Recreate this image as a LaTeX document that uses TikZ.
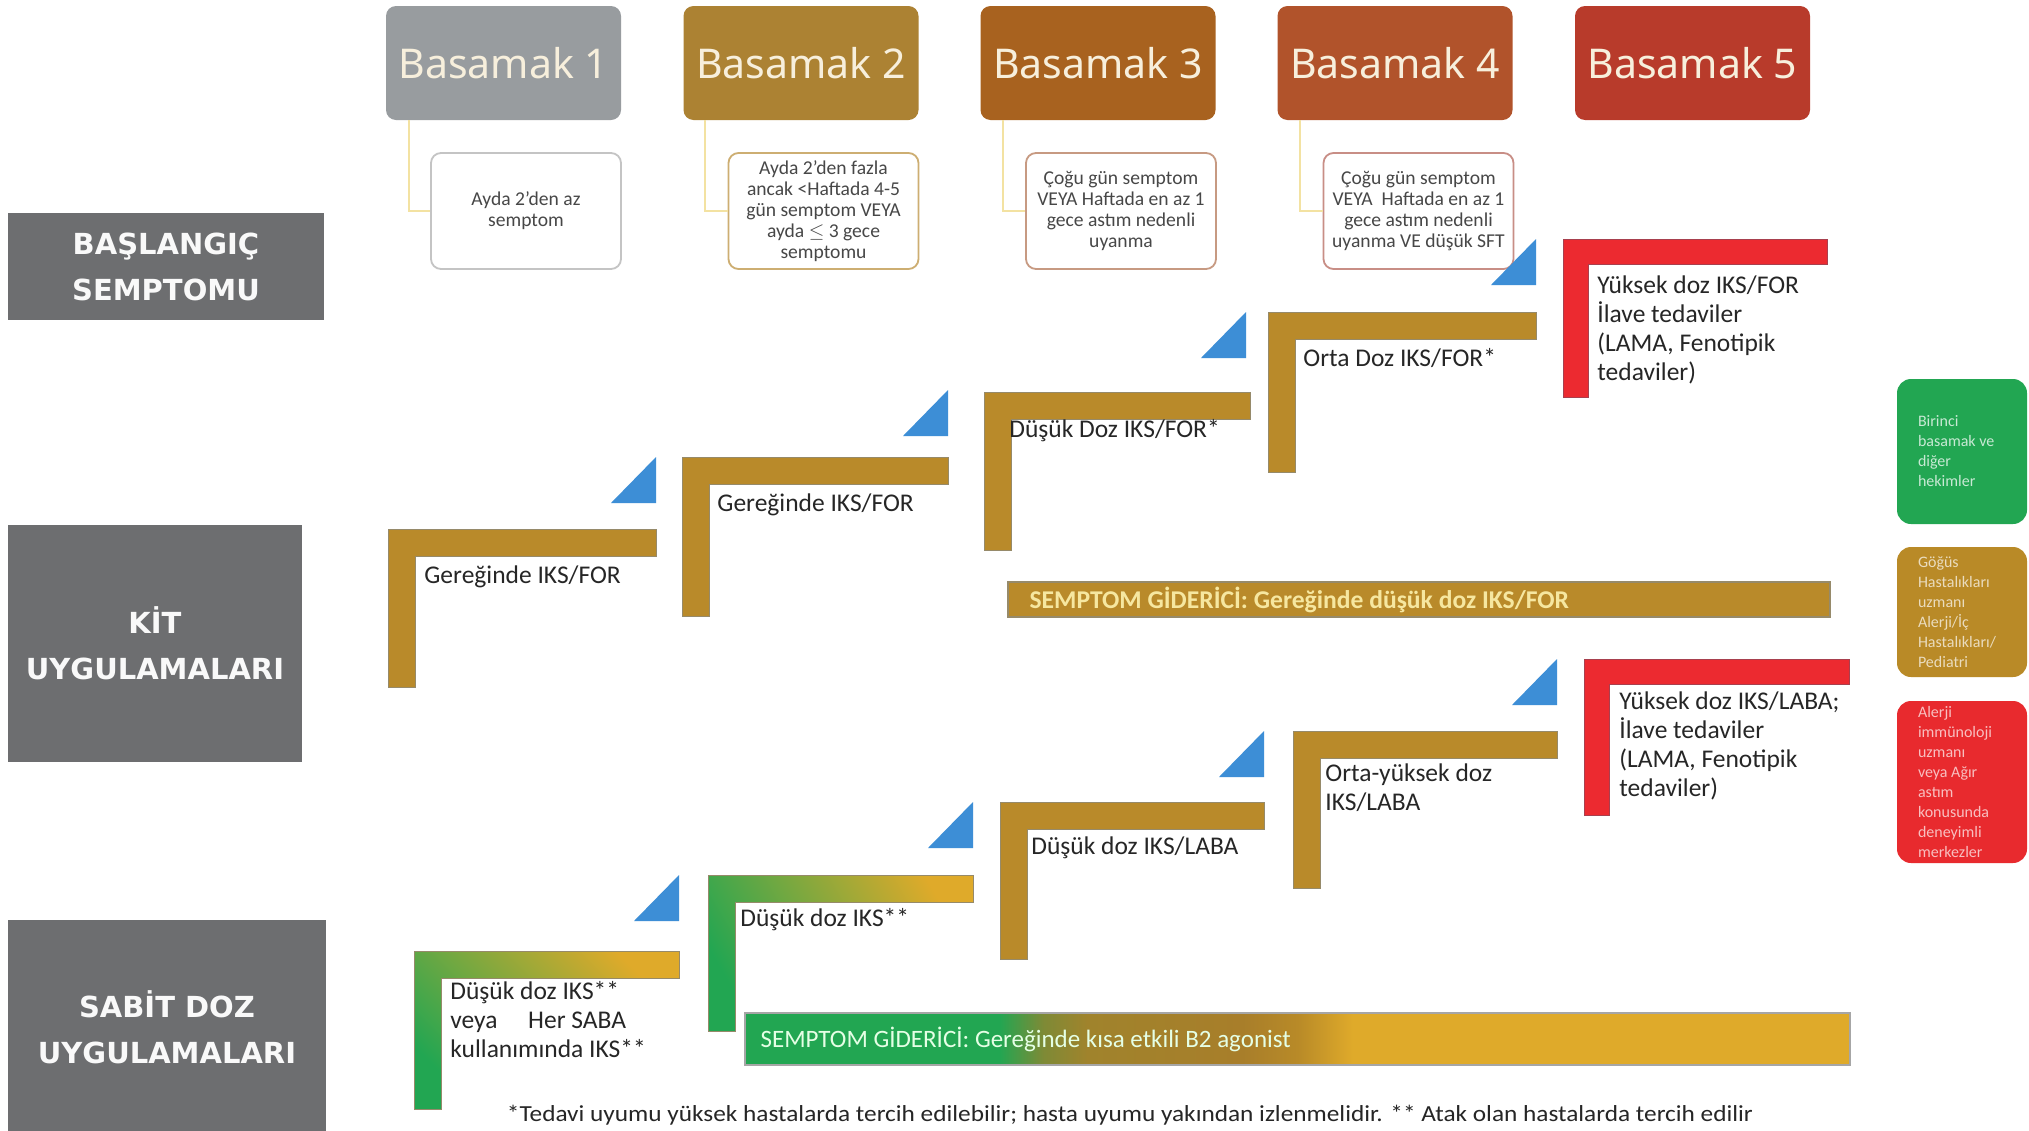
\documentclass[tikz,border=0pt]{standalone}
\usepackage{fontspec}
\setmainfont{Carlito}
\newfontfamily\headfont{Noto Sans}
\newfontfamily\sidefont{DejaVu Sans}
\definecolor{hdA}{HTML}{989C9F}
\definecolor{hdB}{HTML}{AC8233}
\definecolor{hdC}{HTML}{A8621F}
\definecolor{hdD}{HTML}{B1532B}
\definecolor{hdE}{HTML}{B83B2B}
\definecolor{hdtext}{HTML}{F7EFDC}
\definecolor{sbA}{HTML}{C4C4C4}
\definecolor{sbB}{HTML}{CDAE72}
\definecolor{sbC}{HTML}{C79A82}
\definecolor{sbD}{HTML}{C88E86}
\definecolor{conncol}{HTML}{F3E2A2}
\definecolor{sidegray}{HTML}{6D6E70}
\definecolor{goldL}{HTML}{B98A2A}
\definecolor{goldEdge}{HTML}{968A6A}
\definecolor{redL}{HTML}{EC2A30}
\definecolor{redEdge}{HTML}{A8404E}
\definecolor{triblue}{HTML}{3D8ED6}
\definecolor{sGreen}{HTML}{22A652}
\definecolor{sOlive}{HTML}{7E8A36}
\definecolor{sBrown}{HTML}{A0832C}
\definecolor{sMid}{HTML}{A87E2A}
\definecolor{sDark}{HTML}{B88A28}
\definecolor{sGold}{HTML}{DFAA2A}
\definecolor{txtdark}{HTML}{262626}
\definecolor{kitbartxt}{HTML}{F6E7A0}
\definecolor{lgGreen}{HTML}{22A652}
\definecolor{lgGold}{HTML}{B98A27}
\definecolor{lgRed}{HTML}{E82A2E}
\pgfdeclarehorizontalshading{sabitbar}{100bp}{color(0bp)=(sGreen); color(36.5bp)=(sGreen); color(38.5bp)=(sOlive); color(40.5bp)=(sBrown); color(47.5bp)=(sMid); color(50bp)=(sDark); color(52.5bp)=(sGold); color(100bp)=(sGold)}
\newcommand{\Lsh}[5]{(#1,#2) -- (#1+#3,#2) -- (#1+#3,#2+#5) -- (#1+#5,#2+#5) -- (#1+#5,#2+#4) -- (#1,#2+#4) -- cycle}
\newcommand{\Tri}[2]{(#1,#2) -- (#1,#2+46) -- (#1-45,#2+46) -- cycle}
\begin{document}
\begin{tikzpicture}[x=0.5pt,y=-0.5pt,
  every node/.style={inner sep=0pt},
  head/.style={rounded corners=5pt, minimum width=117.5pt, minimum height=57pt, text=hdtext, font=\headfont\fontsize{20.5}{24}\selectfont},
  symp/.style={draw, fill=white, rounded corners=5pt, line width=0.9pt, minimum width=95pt, minimum height=58pt, align=center, text=txtdark!85!white, font=\fontsize{9.8}{10.5}\selectfont},
  side/.style={fill=sidegray, align=center, text=white!95!gray, font=\sidefont\bfseries\fontsize{14.5}{23}\selectfont},
  conn/.style={draw=conncol, line width=1.1pt},
  steptext/.style={anchor=west, align=left, text=txtdark, font=\fontsize{12.75}{14.5}\selectfont},
  Lgold/.style={fill=goldL, draw=goldEdge, line width=0.4pt},
  Lred/.style={fill=redL, draw=redEdge, line width=0.4pt},
  tri/.style={fill=triblue},
  legbox/.style={rounded corners=7pt, minimum width=65pt},
  legtext/.style={anchor=west, align=left, font=\fontsize{8}{10}\selectfont}
]
\useasboundingbox (0,0) rectangle (2029,1130);
\fill[white] (0,0) rectangle (2029,1130);

% header steps
\node[head, fill=hdA] (b1) at (503.5,63) {Basamak 1};
\node[head, fill=hdB] (b2) at (801,63) {Basamak 2};
\node[head, fill=hdC] (b3) at (1098,63) {Basamak 3};
\node[head, fill=hdD] (b4) at (1395,63) {Basamak 4};
\node[head, fill=hdE] (b5) at (1692.5,63) {Basamak 5};

% symptom boxes
\node[symp, draw=sbA] (s1) at (526,211) {Ayda 2'den az\\semptom};
\node[symp, draw=sbB] (s2) at (823.5,211) {Ayda 2'den fazla\\ancak <Haftada 4-5\\gün semptom VEYA\\ayda $\leq$ 3 gece\\semptomu};
\node[symp, draw=sbC] (s3) at (1121,211) {Çoğu gün semptom\\VEYA Haftada en az 1\\gece astım nedenli\\uyanma};
\node[symp, draw=sbD] (s4) at (1418.5,211) {Çoğu gün semptom\\VEYA\ \ Haftada en az 1\\gece astım nedenli\\uyanma VE düşük SFT};

\draw[conn] ([xshift=11.5pt]b1.south west) |- (s1.west);
\draw[conn] ([xshift=11pt]b2.south west) |- (s2.west);
\draw[conn] ([xshift=11.5pt]b3.south west) |- (s3.west);
\draw[conn] ([xshift=11.5pt]b4.south west) |- (s4.west);

% side labels
\node[side, minimum width=158pt, minimum height=53.5pt] (lab1) at (166,266.5) {BAŞLANGIÇ\\SEMPTOMU};
\node[side, minimum width=147pt, minimum height=118.5pt] (lab2) at (155,643.5) {KİT\\UYGULAMALARI};
\node[side, minimum width=159pt, minimum height=107.5pt] (lab3) at (167,1027.5) {SABİT DOZ\\UYGULAMALARI};

% KIT steps
\filldraw[Lgold] \Lsh{388}{529}{268}{158}{27};
\filldraw[Lgold] \Lsh{682}{457}{266}{159}{27};
\filldraw[Lgold] \Lsh{984}{392}{266}{158}{27};
\filldraw[Lgold] \Lsh{1268}{312}{268}{160}{27};
\filldraw[Lred] \Lsh{1563}{239}{264}{158}{25};
\fill[tri] \Tri{656}{457};
\fill[tri] \Tri{948}{390};
\fill[tri] \Tri{1246}{312};
\fill[tri] \Tri{1536}{239};
\node[steptext] (k1) at (424,577) {Gereğinde IKS/FOR};
\node[steptext] (k2) at (717,505) {Gereğinde IKS/FOR};
\node[steptext] (k3) at (1009,431) {Düşük Doz IKS/FOR*};
\node[steptext] (k4) at (1303,358) {Orta Doz IKS/FOR*};
\node[steptext] (k5) at (1597,329.5) {Yüksek doz IKS/FOR\\İlave tedaviler\\(LAMA, Fenotipik\\tedaviler)};
\node[fill=goldL, draw=goldEdge, line width=0.8pt, minimum width=411pt, minimum height=17.5pt] (kb) at (1419,599.5) {};
\node[anchor=west, text=kitbartxt, font=\bfseries\fontsize{12.8}{14}\selectfont] (kbt) at ([xshift=11pt]kb.west) {SEMPTOM GİDERİCİ: Gereğinde düşük doz IKS/FOR};

% SABIT steps
\shade[left color=sGreen, middle color=sOlive, right color=sGold, shading angle=135, draw=goldEdge, line width=0.4pt] \Lsh{414}{951}{265}{158}{27};
\shade[left color=sGreen, middle color=sGreen!60!sGold, right color=sGold, shading angle=120, draw=goldEdge, line width=0.4pt] \Lsh{708}{875}{265}{156}{27};
\filldraw[Lgold] \Lsh{1000}{802}{264}{157}{27};
\filldraw[Lgold] \Lsh{1293}{731}{264}{157}{27};
\filldraw[Lred] \Lsh{1584}{659}{265}{156}{25};
\fill[tri] \Tri{679}{875};
\fill[tri] \Tri{973}{802};
\fill[tri] \Tri{1264}{731};
\fill[tri] \Tri{1557}{659};
\node[steptext] (f1) at (450,1020) {Düşük doz IKS**\\veya\hspace{1.2em}Her SABA\\kullanımında IKS**};
\node[steptext] (f2) at (740,920) {Düşük doz IKS**};
\node[steptext] (f3) at (1031,848) {Düşük doz IKS/LABA};
\node[steptext] (f4) at (1325,788) {Orta-yüksek doz\\IKS/LABA};
\node[steptext] (f5) at (1619,745.5) {Yüksek doz IKS/LABA;\\İlave tedaviler\\(LAMA, Fenotipik\\tedaviler)};
\node[shading=sabitbar, draw=gray!70, line width=0.8pt, minimum width=552.5pt, minimum height=26pt] (sb) at (1297.5,1039) {};
\node[anchor=west, text=green!10!white, font=\fontsize{12.5}{14}\selectfont] (sbt) at ([xshift=8pt]sb.west) {SEMPTOM GİDERİCİ: Gereğinde kısa etkili B2 agonist};

% legend
\node[legbox, fill=lgGreen, minimum height=72.5pt] (g1) at (1962,451.5) {};
\node[legbox, fill=lgGold, minimum height=65pt] (g2) at (1962,612) {};
\node[legbox, fill=lgRed, minimum height=81pt] (g3) at (1962,782) {};
\node[legtext, text=white!75!lgGreen] (g1t) at ([xshift=10.5pt]g1.west) {Birinci\\basamak ve\\diğer\\hekimler};
\node[legtext, text=white!70!lgGold] (g2t) at ([xshift=10.5pt]g2.west) {Göğüs\\Hastalıkları\\uzmanı\\Alerji/İç\\Hastalıkları/\\Pediatri};
\node[legtext, text=white!70!lgRed] (g3t) at ([xshift=10.5pt]g3.west) {Alerji\\immünoloji\\uzmanı\\veya Ağır\\astım\\konusunda\\deneyimli\\merkezler};

% footnote
\node[text=txtdark, font=\fontsize{11.5}{13}\selectfont] (fn) at (1130,1115) {\scalebox{1.1}[1]{*Tedavi uyumu yüksek hastalarda tercih edilebilir; hasta uyumu yakından izlenmelidir. ** Atak olan hastalarda tercih edilir}};
\end{tikzpicture}
\end{document}
